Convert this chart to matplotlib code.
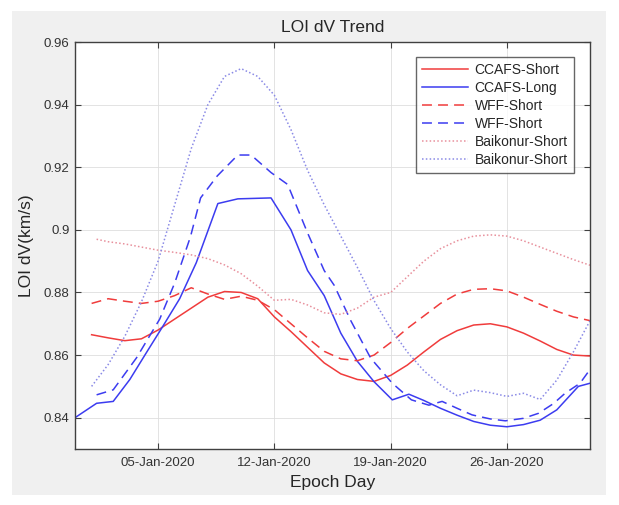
import numpy as np
import pandas as pd
import matplotlib
matplotlib.use("Agg")
import matplotlib.pyplot as plt
import matplotlib.dates as mdates
from matplotlib.patches import Rectangle

plt.rcParams['font.family'] = ['Liberation Sans', 'DejaVu Sans']

# ---- data (day numbers relative to 31-Dec-2019) ----
ccafs_short_days = list(range(1, 32))
ccafs_short = [0.8665, 0.8655, 0.8646, 0.8652, 0.8680, 0.8715, 0.8750, 0.8785, 0.8803, 0.8800,
               0.8780, 0.8722, 0.8675, 0.8625, 0.8575, 0.8540, 0.8522, 0.8516, 0.8535, 0.8568,
               0.8610, 0.8650, 0.8678, 0.8696, 0.8700, 0.8690, 0.8670, 0.8645, 0.8618, 0.8600,
               0.8597]

ccafs_long_days = [0, 1.3, 2.3, 3.3, 4.3, 5.3, 6.3, 7.3, 8.6, 9.8, 11.8, 13.0, 14.0, 15.0, 16.0,
                   17.0, 18.0, 19.1, 20.1, 21.0, 22.0, 23.0, 24.0, 25.0, 26.0, 27.0, 28.0, 29.0,
                   30.3, 31.0]
ccafs_long = [0.8400, 0.8446, 0.8452, 0.8522, 0.8608, 0.8693, 0.8780, 0.8895, 0.9084, 0.9099,
              0.9102, 0.9000, 0.8870, 0.8790, 0.8670, 0.8580, 0.8515, 0.8457, 0.8475, 0.8455,
              0.8430, 0.8408, 0.8388, 0.8376, 0.8371, 0.8378, 0.8392, 0.8425, 0.8500, 0.8510]

wff_short_r_days = list(range(1, 32))
wff_short_r = [0.8765, 0.8780, 0.8772, 0.8765, 0.8772, 0.8790, 0.8815, 0.8795, 0.8778, 0.8788,
               0.8775, 0.8745, 0.8700, 0.8655, 0.8612, 0.8588, 0.8582, 0.8600, 0.8640, 0.8685,
               0.8725, 0.8765, 0.8795, 0.8810, 0.8812, 0.8805, 0.8785, 0.8762, 0.8740, 0.8722,
               0.8710]

wff_short_b_days = [1.3, 2.3, 3.7, 5.1, 6.0, 6.95, 7.56, 8.56, 9.8, 10.6, 11.8, 12.8, 14.0, 15.0,
                    15.6, 16.6, 17.8, 19.1, 20.25, 21.3, 22.1, 23.0, 23.9, 25.0, 25.9, 27.0,
                    27.9, 28.8, 29.5, 30.4, 31.0]
wff_short_b = [0.8473, 0.8489, 0.8591, 0.8715, 0.8830, 0.8978, 0.9102, 0.9172, 0.9239, 0.9239,
               0.9183, 0.9145, 0.8990, 0.8870, 0.8823, 0.8710, 0.8590, 0.8510, 0.8457, 0.8440,
               0.8452, 0.8430, 0.8409, 0.8396, 0.8390, 0.8398, 0.8414, 0.8445, 0.8478, 0.8510,
               0.8554]

baik_short_r_days = [1.3] + list(range(2, 32))
baik_short_r = [0.8970, 0.8962, 0.8955, 0.8945, 0.8935, 0.8928, 0.8920, 0.8908, 0.8888, 0.8860,
                0.8820, 0.8775, 0.8778, 0.8760, 0.8735, 0.8730, 0.8750, 0.8785, 0.8800, 0.8850,
                0.8900, 0.8940, 0.8965, 0.8980, 0.8984, 0.8980, 0.8965, 0.8945, 0.8925, 0.8905,
                0.8887]

baik_short_b_days = list(range(1, 32))
baik_short_b = [0.8500, 0.8570, 0.8660, 0.8770, 0.8900, 0.9080, 0.9260, 0.9400, 0.9490, 0.9515,
                0.9490, 0.9430, 0.9320, 0.9190, 0.9080, 0.8980, 0.8880, 0.8774, 0.8685, 0.8610,
                0.8550, 0.8505, 0.8470, 0.8488, 0.8480, 0.8468, 0.8478, 0.8458, 0.8520, 0.8610,
                0.8710]

labels = ['CCAFS-Short', 'CCAFS-Long', 'WFF-Short', 'WFF-Short', 'Baikonur-Short', 'Baikonur-Short']
tick_days = [5, 12, 19, 26]
y_ticks = [0.84, 0.86, 0.88, 0.90, 0.92, 0.94, 0.96]

base = pd.Timestamp('2019-12-31')
def to_dates(days):
    return [base + pd.Timedelta(days=float(d)) for d in days]

# ---- figure ----
W, H = 619, 505
fig = plt.figure(figsize=(W / 100, H / 100), dpi=100, facecolor='white')
fig.patches.append(Rectangle((12 / W, 1 - 495 / H), (606 - 12) / W, (495 - 11) / H,
                             transform=fig.transFigure, facecolor='#f0f0f0',
                             edgecolor='none', zorder=-10))

ax = fig.add_axes([75 / W, 1 - 449 / H, (590 - 75) / W, (449 - 42) / H])
ax.set_facecolor('white')

red = '#f03c3c'
blue = '#3c3cf0'
red_dot = '#e8909c'
blue_dot = '#8a8ae6'
lw = 1.1
dash = (6.5, 4)
dot = (1, 1.5)

ax.plot(to_dates(ccafs_short_days), ccafs_short, color=red, lw=lw, label=labels[0])
ax.plot(to_dates(ccafs_long_days), ccafs_long, color=blue, lw=lw, label=labels[1])
ax.plot(to_dates(wff_short_r_days), wff_short_r, color=red, lw=lw, ls=(0, dash), label=labels[2])
ax.plot(to_dates(wff_short_b_days), wff_short_b, color=blue, lw=lw, ls=(0, dash), label=labels[3])
ax.plot(to_dates(baik_short_r_days), baik_short_r, color=red_dot, lw=lw, ls=(0, dot), label=labels[4])
ax.plot(to_dates(baik_short_b_days), baik_short_b, color=blue_dot, lw=lw, ls=(0, dot), label=labels[5])

ax.set_xlim(base, base + pd.Timedelta(days=31))
ax.set_ylim(0.83, 0.96)
ax.set_xticks(to_dates(tick_days))
ax.xaxis.set_major_formatter(mdates.DateFormatter('%d-%b-%Y'))
ax.set_yticks(y_ticks)
ax.set_yticklabels([f'{v:g}' for v in y_ticks])

txt = '#262626'
ax.tick_params(direction='in', length=4, width=0.8, colors='#404040',
               labelcolor='#333333', labelsize=9.5, top=True, right=True)
ax.tick_params(axis='x', pad=6)
ax.tick_params(axis='y', pad=4)
for s in ax.spines.values():
    s.set_color('#404040')
    s.set_linewidth(1.0)
ax.grid(True, color='#dedede', lw=0.6)
ax.set_axisbelow(True)

ax.set_title('LOI dV Trend', fontsize=12.5, color=txt, pad=7)
ax.set_xlabel('Epoch Day', fontsize=12.5, color=txt, labelpad=4)
ax.set_ylabel('LOI dV(km/s)', fontsize=12.5, color=txt, labelpad=7)

leg = ax.legend(loc='upper right', bbox_to_anchor=((574 - 75) / 515, (449 - 57) / 407),
                borderaxespad=0, fontsize=10, frameon=True, fancybox=False,
                handlelength=3.3, handletextpad=0.5, labelspacing=0.28, borderpad=0.45)
leg.get_frame().set_edgecolor('#404040')
leg.get_frame().set_linewidth(1.0)
for t in leg.get_texts():
    t.set_color(txt)

fig.savefig('out.png', dpi=100, facecolor=fig.get_facecolor())
